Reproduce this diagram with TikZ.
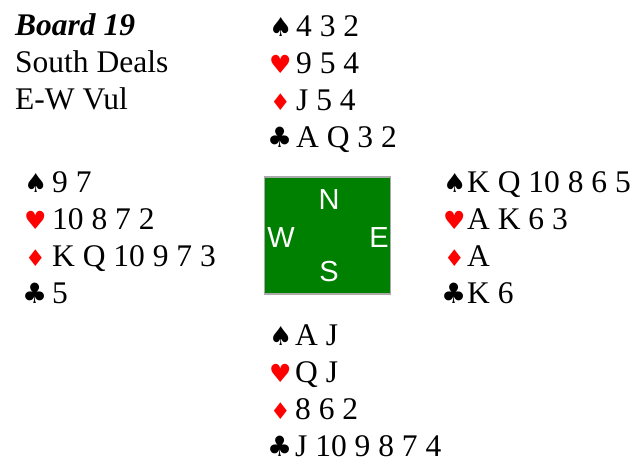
\documentclass[tikz,border=0pt]{standalone}
\usepackage{fontspec}
\setmainfont{Liberation Serif}
\newfontfamily\suitfont{DejaVu Sans}
\newfontfamily\compassfont{Liberation Sans}
\definecolor{suitred}{RGB}{255,0,0}
\definecolor{tablegreen}{RGB}{0,128,0}
\definecolor{boxgray}{RGB}{170,170,170}
\tikzset{
  txt/.style={anchor=base west, inner sep=0pt, font=\fontsize{31.5}{37}\selectfont},
  sym/.style={anchor=base west, inner sep=0pt},
  blk/.style={sym, text=black},
  redsym/.style={sym, text=suitred},
  compass/.style={text=white, inner sep=0pt, font=\compassfont\fontsize{29}{29}\selectfont},
  tablebox/.style={fill=tablegreen, draw=boxgray, line width=1.5pt}
}
\newcommand{\spadeg}{{\suitfont\fontsize{26}{26}\selectfont ♠}}
\newcommand{\heartg}{{\suitfont\fontsize{25}{25}\selectfont ♥}}
\newcommand{\diamondg}{{\suitfont\fontsize{23}{23}\selectfont ♦}}
\newcommand{\clubg}{{\suitfont\fontsize{28}{28}\selectfont ♣}}
\newcommand{\hand}[8]{%
  \node[blk] (#1sS) at (#2,#4) {\spadeg};
  \node[txt] (#1tS) at (#3,#4) {#5};
  \node[redsym] (#1sH) at (#2,#4+37) {\heartg};
  \node[txt] (#1tH) at (#3,#4+37) {#6};
  \node[redsym] (#1sD) at (#2+1,#4+74) {\diamondg};
  \node[txt] (#1tD) at (#3,#4+74) {#7};
  \node[blk] (#1sC) at (#2-2,#4+111) {\clubg};
  \node[txt] (#1tC) at (#3,#4+111) {#8};
}
\begin{document}
\begin{tikzpicture}[x=1pt,y=-1pt]
\useasboundingbox (0,0) rectangle (637,462);
% header
\node[txt] (board) at (15,36) {\textbf{\textit{Board 19}}};
\node[txt] (dealer) at (15,73) {South Deals};
\node[txt] (vul) at (15,110) {E-W Vul};
% hands
\hand{n}{269}{296}{37}{4 3 2}{9 5 4}{J 5 4}{A Q 3 2}
\hand{w}{24}{52}{193}{9 7}{10 8 7 2}{K Q 10 9 7 3}{5}
\hand{e}{443}{467}{193}{K Q 10 8 6 5}{A K 6 3}{A}{K 6}
\hand{s}{269}{295}{345}{A J}{Q J}{8 6 2}{J 10 9 8 7 4}
% compass
\node[tablebox, minimum width=126pt, minimum height=117pt, inner sep=0pt] (table) at (327.5,235.5) {};
\node[compass] (N) at (329,200) {N};
\node[compass] (W) at (281,238) {W};
\node[compass] (E) at (379,238) {E};
\node[compass] (S) at (329,272) {S};
\end{tikzpicture}
\end{document}
